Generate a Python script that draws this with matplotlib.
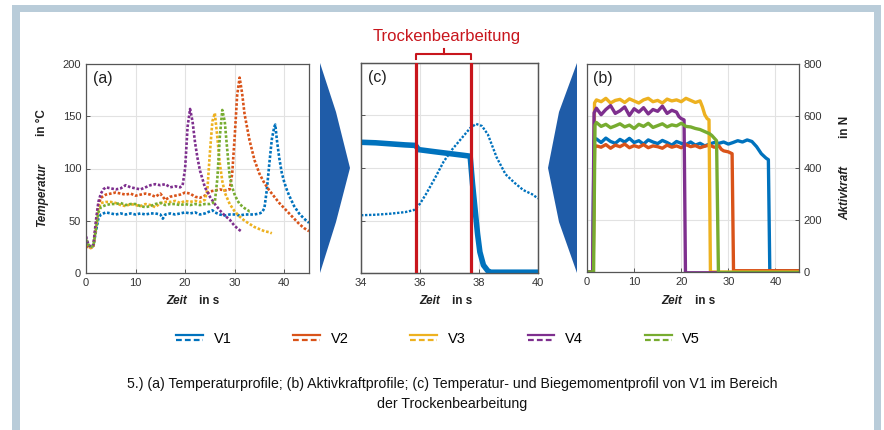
import matplotlib
matplotlib.use("Agg")
import matplotlib.pyplot as plt
from matplotlib.lines import Line2D
from matplotlib.patches import Rectangle, Polygon
from matplotlib.legend_handler import HandlerBase
import matplotlib.transforms as mtransforms

plt.rcParams['font.family'] = ['Liberation Sans', 'DejaVu Sans']

W, H = 884, 430

# colours (MATLAB default order)
colors = ['#0072BD', '#D95319', '#EDB120', '#7E2F8E', '#77AC30']
labels = ['V1', 'V2', 'V3', 'V4', 'V5']
red = '#C8161D'
arrow_blue = '#1F5CA8'

# ---------- (a) temperature profiles ----------
t_t1 = [0, 0.5, 1, 1.5, 2, 2.5, 3, 4, 5, 6, 7, 8, 9, 10, 11, 12, 13, 14, 15, 15.5,
        16, 17, 18, 19, 20, 21, 22, 23, 24, 25, 25.5, 26, 27, 28, 29, 30, 31, 32, 33, 34, 35,
        35.5, 36, 36.5, 37, 37.5, 38, 38.2, 38.5, 39, 39.5, 40, 40.5, 41, 42, 43, 44, 45]
temp1 = [30, 26, 25, 26, 40, 52, 56, 58, 57, 56, 57, 56, 57, 56, 57, 56, 57, 57, 56, 52,
         56, 57, 56, 57, 58, 57, 58, 56, 57, 59, 60, 58, 56, 55, 56, 56, 55, 56, 56, 56, 57,
         58, 62, 80, 105, 128, 140, 142, 128, 110, 96, 87, 80, 74, 64, 57, 52, 48]

t_t2 = [0, 0.5, 1, 1.5, 2, 2.5, 3, 4, 5, 6, 7, 8, 9, 10, 11, 12, 13, 14, 15, 16, 17, 18,
        19, 20, 21, 22, 23, 24, 25, 26, 27, 28, 29, 29.5, 30, 30.5, 31, 31.5, 32, 33, 34,
        35, 36, 37, 38, 39, 40, 41, 42, 43, 44, 45]
temp2 = [26, 24, 24, 25, 45, 65, 72, 75, 76, 77, 76, 75, 76, 74, 75, 76, 75, 73, 76, 70,
         73, 74, 75, 77, 76, 73, 72, 74, 78, 79, 80, 79, 80, 95, 130, 170, 187, 172, 152,
         127, 108, 95, 86, 79, 73, 67, 62, 57, 52, 47, 43, 40]

t_t3 = [0, 0.5, 1, 1.5, 2, 2.5, 3, 4, 5, 6, 7, 8, 9, 10, 11, 12, 13, 14, 15, 16, 17, 18,
        19, 20, 21, 22, 23, 24, 24.5, 25, 25.5, 26, 26.5, 27, 27.5, 28, 29, 30, 31, 32, 33,
        34, 35, 36, 37, 37.5]
temp3 = [28, 25, 24, 26, 45, 62, 67, 68, 68, 67, 65, 64, 66, 65, 64, 66, 65, 63, 67, 68,
         68, 69, 67, 69, 68, 69, 68, 70, 80, 115, 145, 153, 130, 105, 88, 77, 66, 59, 54,
         50, 47, 44, 42, 40, 39, 38]

t_t4 = [0, 0.5, 1, 1.5, 2, 2.5, 3, 3.5, 4, 5, 6, 7, 8, 9, 10, 11, 12, 13, 14, 15, 16, 17,
        18, 19, 19.5, 20, 20.5, 21, 21.5, 22, 22.5, 23, 24, 25, 26, 27, 28, 29, 30, 31, 31.3]
temp4 = [35, 27, 25, 27, 50, 68, 76, 80, 82, 81, 80, 81, 84, 82, 81, 80, 82, 84, 85, 84,
         85, 82, 83, 82, 84, 100, 140, 157, 145, 125, 110, 98, 82, 73, 66, 60, 55, 51, 45,
         41, 40]

t_t5 = [0, 0.5, 1, 1.5, 2, 2.5, 3, 4, 5, 6, 7, 8, 9, 10, 11, 12, 13, 14, 15, 16, 17, 18,
        19, 20, 21, 22, 23, 24, 25, 26, 26.5, 27, 27.5, 28, 28.5, 29, 29.5, 30, 30.5, 31,
        32, 33, 33.2]
temp5 = [32, 27, 25, 26, 42, 58, 63, 65, 66, 66, 67, 65, 66, 66, 64, 63, 64, 66, 67, 65,
         66, 66, 65, 66, 65, 66, 65, 66, 66, 68, 90, 130, 156, 145, 118, 92, 82, 75, 70, 66,
         62, 59, 59]

# ---------- (b) active force profiles ----------
t_f1 = [0, 1.2, 1.5, 2, 3, 4, 5, 6, 7, 8, 9, 10, 11, 12, 13, 14, 15, 16, 17, 18, 19, 20,
        21, 22, 23, 24, 25, 26, 27, 28, 29, 30, 31, 32, 33, 34, 35, 36, 37, 38, 38.5, 38.8, 45]
f1 = [0, 0, 505, 512, 498, 515, 502, 495, 510, 500, 514, 498, 505, 492, 508, 500, 494, 506,
      498, 488, 502, 495, 490, 500, 488, 495, 485, 492, 498, 495, 500, 492, 498, 505, 500,
      508, 502, 482, 455, 438, 432, 5, 5]

t_f2 = [0, 1.3, 1.6, 2, 3, 4, 5, 6, 7, 8, 9, 10, 11, 12, 13, 14, 15, 16, 17, 18, 19, 20,
        21, 22, 23, 24, 25, 26, 27, 28, 28.5, 29, 30, 30.8, 31.1, 45]
f2 = [0, 0, 478, 485, 480, 490, 476, 488, 482, 492, 478, 486, 480, 490, 478, 485, 482, 476,
      488, 480, 485, 478, 490, 482, 486, 478, 484, 488, 480, 485, 472, 466, 462, 455, 5, 5]

t_f3 = [0, 1.3, 1.6, 2, 3, 4, 5, 6, 7, 8, 9, 10, 11, 12, 13, 14, 15, 16, 17, 18, 19, 20,
        21, 22, 23, 24, 24.5, 25, 25.5, 25.9, 26.2, 45]
f3 = [0, 0, 650, 662, 655, 668, 650, 660, 664, 652, 666, 658, 650, 662, 668, 655, 660, 650,
      665, 658, 662, 655, 668, 660, 652, 658, 635, 605, 590, 585, 0, 0]

t_f4 = [0, 1.2, 1.5, 2, 3, 4, 5, 6, 7, 8, 9, 10, 11, 12, 13, 14, 15, 16, 17, 18, 19, 19.5,
        20, 20.6, 20.9, 38.5]
f4 = [0, 0, 612, 630, 605, 625, 640, 610, 620, 635, 602, 628, 615, 632, 608, 625, 618, 638,
      610, 622, 615, 598, 590, 585, -3, -3]

t_f5 = [0, 1.4, 1.7, 2, 3, 4, 5, 6, 7, 8, 9, 10, 11, 12, 13, 14, 15, 16, 17, 18, 19, 20,
        21, 22, 23, 24, 25, 26, 26.5, 27, 27.5, 27.9, 45]
f5 = [0, 0, 565, 575, 560, 568, 555, 562, 570, 558, 565, 552, 568, 560, 572, 556, 563, 570,
      558, 566, 562, 572, 560, 558, 552, 548, 540, 532, 525, 515, 505, -2, -2]

# ---------- (c) V1 detail around the dry machining ----------
t_c_temp = [34, 34.5, 35, 35.5, 35.8, 36, 36.2, 36.5, 36.8, 37.1, 37.4, 37.7, 37.9, 38.1,
            38.3, 38.6, 38.9, 39.2, 39.5, 39.8, 40]
temp_c = [55, 55.5, 56.5, 58, 60, 66, 75, 90, 106, 118, 128, 138, 142, 140, 132, 110, 94,
          86, 79, 75, 71]
t_c_force = [34, 34.5, 35, 35.5, 35.85, 35.95, 36.5, 37, 37.5, 37.7, 37.78, 37.86, 37.95,
             38.03, 38.15, 38.3, 38.4, 40]
force_c = [498, 496, 492, 488, 486, 470, 462, 455, 448, 445, 340, 250, 150, 80, 30, 8, 3, 3]
dry_start, dry_end = 35.87, 37.73

temps = [(t_t1, temp1), (t_t2, temp2), (t_t3, temp3), (t_t4, temp4), (t_t5, temp5)]
forces = [(t_f1, f1), (t_f2, f2), (t_f3, f3), (t_f4, f4), (t_f5, f5)]

dots = (0, (1.0, 0.7))  # dense dotted look


def px_rect(x0, y0, x1, y1):
    return [x0 / W, 1 - y1 / H, (x1 - x0) / W, (y1 - y0) / H]


def fx(x):
    return x / W


def fy(y):
    return 1 - y / H


fig = plt.figure(figsize=(W / 100, H / 100), dpi=100, facecolor='white')

# frame
fig.add_artist(Rectangle((fx(12), fy(440)), (881 - 12) / W, (440 - 5) / H,
                         transform=fig.transFigure, facecolor='#B9CCD9', edgecolor='none', zorder=-20))
fig.add_artist(Rectangle((fx(20), fy(440)), (874 - 20) / W, (440 - 12) / H,
                         transform=fig.transFigure, facecolor='white', edgecolor='none', zorder=-19))

spine_c = '#555555'
tick_c = '#333333'


def style(ax):
    for s in ax.spines.values():
        s.set_color(spine_c)
        s.set_linewidth(0.9)
    ax.tick_params(direction='in', length=3, width=0.7, color=spine_c,
                   labelsize=8, labelcolor=tick_c)
    ax.grid(True, color='#E2E2E2', lw=0.8)
    ax.set_axisbelow(True)


# panel (a)
ax_a = fig.add_axes(px_rect(86, 64, 309, 273))
for (t, v), c in zip(temps, colors):
    ax_a.plot(t, v, ls=dots, lw=1.9, color=c)
ax_a.set_xlim(0, 45)
ax_a.set_ylim(0, 200)
ax_a.set_xticks([0, 10, 20, 30, 40])
ax_a.set_yticks([0, 50, 100, 150, 200])
style(ax_a)
ax_a.text(0.03, 0.93, '(a)', transform=ax_a.transAxes, fontsize=11.5, va='center', color='#222222')

# panel (c)
ax_c = fig.add_axes(px_rect(361, 63, 538, 273))
ax_c.plot(t_c_temp, temp_c, ls=dots, lw=1.7, color=colors[0])
ax_c.set_xlim(34, 40)
ax_c.set_ylim(0, 200)
ax_c.set_xticks([34, 36, 38, 40])
ax_c.set_yticks([0, 50, 100, 150, 200])
style(ax_c)
ax_c.tick_params(labelleft=False, left=False)
ax_c2 = ax_c.twinx()
ax_c2.plot(t_c_force, force_c, lw=4, color=colors[0], solid_capstyle='butt')
ax_c2.set_ylim(0, 800)
ax_c2.tick_params(right=False, labelright=False)
for s in ax_c2.spines.values():
    s.set_color(spine_c)
    s.set_linewidth(0.9)
for xv in (dry_start, dry_end):
    ax_c2.axvline(xv, color=red, lw=2.3, zorder=5)
ax_c.text(0.04, 0.93, '(c)', transform=ax_c.transAxes, fontsize=11.5, va='center', color='#222222')

# bracket above (c)
btr = mtransforms.blended_transform_factory(ax_c.transData, ax_c.transAxes)
mid = (dry_start + dry_end) / 2
ax_c.plot([dry_start, dry_start, dry_end, dry_end], [1.019, 1.043, 1.043, 1.019],
          color=red, lw=1.5, transform=btr, clip_on=False)
ax_c.plot([mid, mid], [1.043, 1.066], color=red, lw=1.5, transform=btr, clip_on=False)
fig.text(fx(447), fy(37), 'Trockenbearbeitung', color=red, fontsize=12, ha='center', va='center')

# panel (b)
ax_b = fig.add_axes(px_rect(587, 64, 799, 272))
for (t, v), c in zip(forces, colors):
    ax_b.plot(t, v, lw=2.4, color=c)
ax_b.set_xlim(0, 45)
ax_b.set_ylim(0, 800)
ax_b.set_xticks([0, 10, 20, 30, 40])
ax_b.set_yticks([0, 200, 400, 600, 800])
ax_b.yaxis.tick_right()
style(ax_b)
ax_b.tick_params(left=False)
ax_b.text(0.03, 0.93, '(b)', transform=ax_b.transAxes, fontsize=11.5, va='center', color='#222222')

# axis labels
lab_kw = dict(fontsize=8.5, color='#222222', va='center', ha='center')
for zx, ix in ((177, 209), (430, 462), (672, 705)):
    fig.text(fx(zx), fy(301), 'Zeit', fontweight='bold', fontstyle='italic', **lab_kw)
    fig.text(fx(ix), fy(301), 'in s', fontweight='bold', **lab_kw)
fig.text(fx(42), fy(195), 'Temperatur', rotation=90, fontweight='bold', fontstyle='italic', **lab_kw)
fig.text(fx(42), fy(123), 'in °C', rotation=90, fontweight='bold', **lab_kw)
fig.text(fx(845), fy(193), 'Aktivkraft', rotation=90, fontweight='bold', fontstyle='italic', **lab_kw)
fig.text(fx(845), fy(127), 'in N', rotation=90, fontweight='bold', **lab_kw)

# arrows between panels
fig.add_artist(Polygon([(fx(320), fy(63)), (fx(336), fy(112)), (fx(350), fy(168)),
                        (fx(336), fy(222)), (fx(320), fy(273))],
                       closed=True, transform=fig.transFigure, facecolor=arrow_blue, edgecolor='none'))
fig.add_artist(Polygon([(fx(577), fy(63)), (fx(559), fy(112)), (fx(548), fy(168)),
                        (fx(559), fy(222)), (fx(577), fy(273))],
                       closed=True, transform=fig.transFigure, facecolor=arrow_blue, edgecolor='none'))


# legend: solid (force) over dashed (temperature)
class TwoLines(HandlerBase):
    def create_artists(self, legend, orig_handle, xdescent, ydescent, width, height, fontsize, trans):
        c = orig_handle.get_color()
        x = [-xdescent, width - xdescent]
        top = Line2D(x, [0.78 * height - ydescent] * 2, color=c, lw=1.6, transform=trans)
        bot = Line2D(x, [0.30 * height - ydescent] * 2, color=c, lw=1.6, ls=(0, (2.6, 1.4)),
                     transform=trans)
        return [top, bot]


handles = [Line2D([], [], color=c) for c in colors]
fig.legend(handles, labels, handler_map={Line2D: TwoLines()}, ncol=5, loc='center',
           bbox_to_anchor=(fx(438), fy(339)), frameon=False, fontsize=10.5,
           handlelength=1.85, handletextpad=0.7, columnspacing=4.25)

# caption
fig.text(fx(452), fy(384),
         '5.) (a) Temperaturprofile; (b) Aktivkraftprofile; (c) Temperatur- und Biegemomentprofil von V1 im Bereich',
         fontsize=10.2, ha='center', va='center', color='#111111')
fig.text(fx(452), fy(404), 'der Trockenbearbeitung', fontsize=10.2, ha='center', va='center', color='#111111')

fig.savefig('out.png', dpi=100, facecolor='white')
